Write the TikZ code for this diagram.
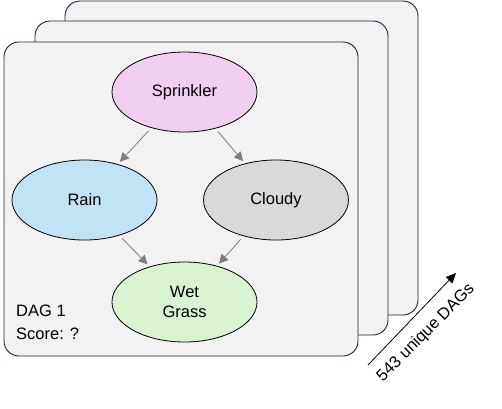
\documentclass[tikz,border=0pt]{standalone}
\usepackage{fontspec}
\setmainfont{Liberation Sans}
\usetikzlibrary{shapes.geometric,arrows.meta}
\definecolor{cardfill}{HTML}{F2F2F2}
\definecolor{cardline}{HTML}{0E2841}
\definecolor{sprfill}{HTML}{F2CEEF}
\definecolor{rainfill}{HTML}{C0E4F5}
\definecolor{cloudfill}{HTML}{D9D9D9}
\definecolor{wetfill}{HTML}{D9F2D0}
\definecolor{arrgray}{HTML}{7F7F7F}
\begin{document}
\begin{tikzpicture}[x=1pt,y=-1pt,
  card/.style={draw=cardline, fill=cardfill, line width=0.9pt, rounded corners=15pt},
  var/.style={ellipse, draw=black, line width=0.8pt, minimum width=145pt, minimum height=80pt, inner sep=0pt, font=\fontsize{16.5}{20}\selectfont},
  garr/.style={draw=arrgray, line width=0.8pt, -{Triangle[length=9pt,width=9pt]}, shorten <=4pt, shorten >=3pt},
  lbl/.style={font=\fontsize{16.5}{20}\selectfont, inner sep=0pt}
]
\useasboundingbox (0,0) rectangle (502,408);
\draw[card] (65,1) rectangle (418,315);
\draw[card] (35,21) rectangle (388,335);
\draw[card] (4,42) rectangle (358,356);

\node[var, fill=sprfill] (spr) at (184.5,92) {Sprinkler};
\node[var, fill=rainfill] (rain) at (84.5,200) {Rain};
\node[var, fill=cloudfill] (cloudy) at (276,200) {Cloudy};
\node[var, fill=wetfill, align=center] (wet) at (184.5,302) {Wet\\Grass};

\draw[garr] (spr) -- (rain);
\draw[garr] (spr) -- (cloudy);
\draw[garr] (rain) -- (wet);
\draw[garr] (cloudy) -- (wet);

\node[lbl, anchor=base west] (dag) at (16,316) {DAG 1};
\node[lbl, anchor=base west] (score) at (16,339) {Score: ?};

\coordinate (a0) at (368,365);
\coordinate (a1) at (456,273);
\draw[line width=0.8pt, -{Triangle[length=10pt,width=9pt]}] (a0) -- (a1);
\node[lbl, rotate=45] (cnt) at (426,333) {543 unique DAGs};
\end{tikzpicture}
\end{document}
